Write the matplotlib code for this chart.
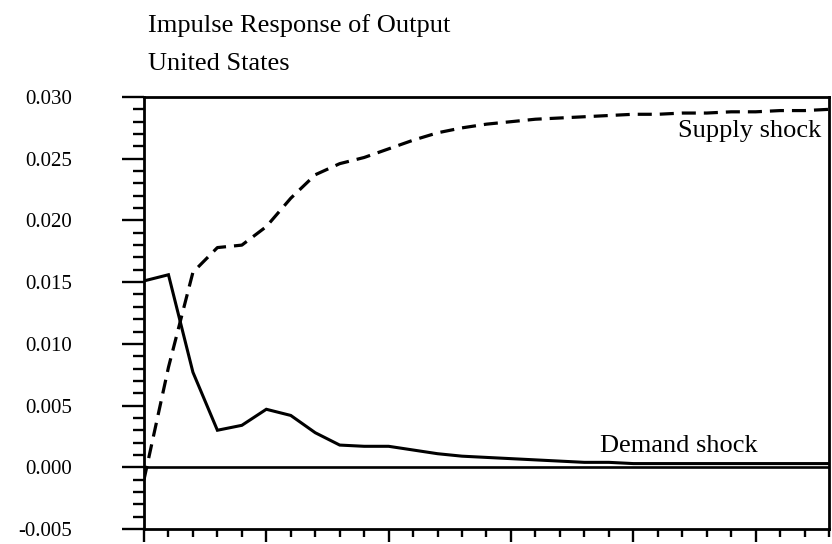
import matplotlib
matplotlib.use("Agg")
import matplotlib.pyplot as plt
from matplotlib.ticker import MultipleLocator, FixedLocator

# ---- data ----
periods = list(range(0, 29))
demand_shock = [0.0151, 0.0156, 0.0077, 0.0030, 0.0034, 0.0047, 0.0042, 0.0028,
                0.0018, 0.0017, 0.0017, 0.0014, 0.0011, 0.0009, 0.0008, 0.0007,
                0.0006, 0.0005, 0.0004, 0.0004, 0.0003, 0.0003, 0.0003, 0.0003,
                0.0003, 0.0003, 0.0003, 0.0003, 0.0003]
supply_shock = [-0.0010, 0.0081, 0.0158, 0.0178, 0.0180, 0.0195, 0.0218, 0.0237,
                0.0246, 0.0251, 0.0258, 0.0265, 0.0271, 0.0275, 0.0278, 0.0280,
                0.0282, 0.0283, 0.0284, 0.0285, 0.0286, 0.0286, 0.0287, 0.0287,
                0.0288, 0.0288, 0.0289, 0.0289, 0.0290]
y_ticks = [-0.005, 0.000, 0.005, 0.010, 0.015, 0.020, 0.025, 0.030]
y_tick_labels = ["-0.005", "0.000", "0.005", "0.010", "0.015", "0.020", "0.025", "0.030"]
title_line1 = "Impulse Response of Output"
title_line2 = "United States"
label_supply = "Supply shock"
label_demand = "Demand shock"

plt.rcParams['font.family'] = ['Liberation Serif', 'DejaVu Serif']

fig = plt.figure(figsize=(8.32, 5.44), dpi=100)
ax = fig.add_axes([144/832, 1 - 529/544, 685/832, 432/544])

ax.plot(periods, demand_shock, color='black', lw=2.2, solid_joinstyle='miter')
ax.plot(periods, supply_shock, color='black', lw=2.3, linestyle=(0, (4.4, 2.5)))
ax.axhline(0.0, color='black', lw=1.9)

ax.set_xlim(0, 28)
ax.set_ylim(-0.005, 0.030)

for s in ax.spines.values():
    s.set_linewidth(2.0)
    s.set_color('black')

ax.yaxis.set_major_locator(FixedLocator(y_ticks))
ax.set_yticklabels(y_tick_labels)
ax.yaxis.set_minor_locator(MultipleLocator(0.001))
ax.xaxis.set_major_locator(MultipleLocator(5))
ax.xaxis.set_minor_locator(MultipleLocator(1))
ax.set_xticklabels([])

ax.tick_params(axis='y', which='major', direction='out', length=16, width=1.7,
               pad=36, labelsize=15)
ax.tick_params(axis='y', which='minor', direction='out', length=8, width=1.7)
ax.tick_params(axis='x', which='major', direction='out', length=9.5, width=1.7)
ax.tick_params(axis='x', which='minor', direction='out', length=5.5, width=1.7)
ax.tick_params(axis='x', labelbottom=False)

ax.text(0.988, 0.907, label_supply, transform=ax.transAxes, ha='right',
        va='baseline', fontsize=19)
ax.text(0.6657, 0.1775, label_demand, transform=ax.transAxes, ha='left',
        va='baseline', fontsize=19)

fig.text(148/832, 1 - 31.7/544, title_line1, ha='left', va='baseline', fontsize=19)
fig.text(148/832, 1 - 70/544, title_line2, ha='left', va='baseline', fontsize=19)

fig.savefig("out.png", dpi=100)
